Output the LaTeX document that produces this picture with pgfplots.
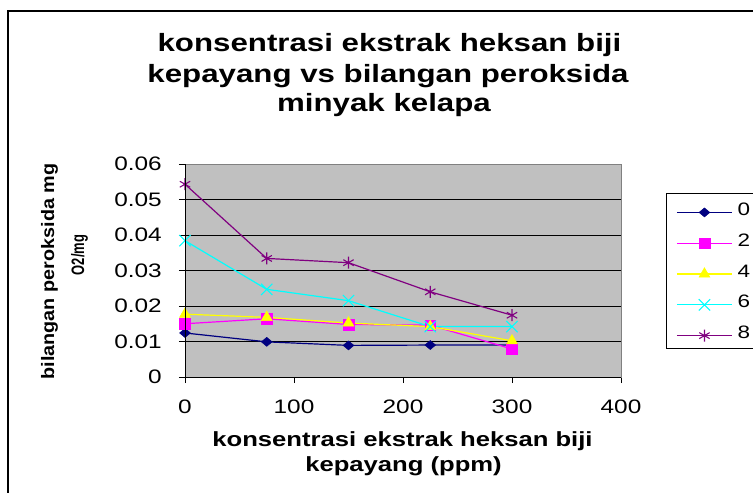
\documentclass[border=0pt]{standalone}
\usepackage{graphicx}
\usepackage{pgfplots}
\pgfplotsset{compat=1.18}
\usepackage{fontspec}
\setmainfont{Liberation Sans}[FakeStretch=1.25]
\newfontfamily\ylfont{Liberation Sans}
\definecolor{sNavy}{HTML}{000080}
\definecolor{sMag}{HTML}{FF00FF}
\definecolor{sYel}{HTML}{FFFF00}
\definecolor{sCyan}{HTML}{00FFFF}
\definecolor{sPurp}{HTML}{800080}
\definecolor{plotgray}{HTML}{C0C0C0}
\begin{document}
\begin{tikzpicture}
\path[use as bounding box] (0pt,0pt) rectangle (753pt,493pt);
\clip (0pt,0pt) rectangle (753pt,493pt);
\draw[line width=1.5pt] (8pt,482pt) rectangle (790pt,-20pt);
% title
\node[anchor=base, inner sep=0pt, font=\fontsize{25}{25}\bfseries\selectfont] at (389.5pt,441pt) {konsentrasi ekstrak heksan biji};
\node[anchor=base, inner sep=0pt, font=\fontsize{25}{25}\bfseries\selectfont] at (388pt,410pt) {kepayang vs bilangan peroksida};
\node[anchor=base, inner sep=0pt, font=\fontsize{25}{25}\bfseries\selectfont] at (384pt,381pt) {minyak kelapa};
% x label
\node[anchor=base, inner sep=0pt, font=\fontsize{20.5}{20.5}\bfseries\selectfont] at (402.5pt,46pt) {konsentrasi ekstrak heksan biji};
\node[anchor=base, inner sep=0pt, font=\fontsize{20.5}{20.5}\bfseries\selectfont] at (403.5pt,21pt) {kepayang (ppm)};
% y label
\node[anchor=base, inner sep=0pt, rotate=90] at (54pt,221.5pt) {\scalebox{1.1}[1]{\ylfont\bfseries\fontsize{18}{18}\selectfont bilangan peroksida mg}};
\node[anchor=base, inner sep=0pt, rotate=90] at (84pt,238pt) {\scalebox{0.72}[1]{\ylfont\bfseries\fontsize{18}{18}\selectfont O2/mg}};
\begin{axis}[
  at={(185pt,116pt)}, anchor=south west,
  scale only axis, width=436pt, height=213pt,
  xmin=0, xmax=400, ymin=0, ymax=0.06,
  scaled y ticks=false, scaled x ticks=false,
  xtick={0,100,200,300,400}, xticklabels={0,100,200,300,400},
  ytick={0,0.01,0.02,0.03,0.04,0.05,0.06},
  yticklabels={0,0.01,0.02,0.03,0.04,0.05,0.06},
  axis background/.style={fill=plotgray},
  axis line style={draw=gray, line width=0.9pt},
  ymajorgrids, grid style={black, line width=0.9pt},
  tick align=outside, major tick length=6pt,
  tick style={black, line width=0.9pt},
  xtick pos=left, ytick pos=left,
  ticklabel style={font=\fontsize{19.5}{19.5}\selectfont, inner sep=0pt},
  yticklabel style={xshift=-17pt},
  xticklabel style={yshift=-17pt},
  clip=false,
  legend style={at={(1.103,0.864)}, anchor=north west, draw=black, line width=0.9pt, fill=white,
    font=\fontsize{18}{18}\selectfont, inner xsep=10pt, inner ysep=2pt, row sep=2.8pt,
    cells={anchor=west},
    nodes={inner sep=0pt, text height=20pt, text depth=8pt, text width=25pt},
    /tikz/every odd column/.append style={column sep=5pt}},
  legend image code/.code={\draw[mark repeat=2,mark phase=2,#1] plot coordinates {(0pt,-3pt) (27.5pt,-3pt) (55pt,-3pt)};},
  after end axis/.code={
    \draw[black, line width=0.9pt] (rel axis cs:0,0) -- (rel axis cs:0,1);
    \draw[black, line width=0.9pt] (rel axis cs:0,0) -- (rel axis cs:1,0);
  },
]
\addplot[color=sNavy, line width=1.2pt, mark=diamond*, mark size=4.5pt, mark options={solid, xscale=1.6, fill=sNavy, line width=0.5pt}]
  coordinates {(0,0.0124) (75,0.0099) (150,0.0089) (225,0.0090) (300,0.0090)};
\addlegendentry{0}
\addplot[color=sMag, line width=1.2pt, mark=square*, mark size=5.3pt, mark options={solid, fill=sMag, line width=0.5pt}]
  coordinates {(0,0.0150) (75,0.0164) (150,0.0148) (225,0.0146) (300,0.0079)};
\addlegendentry{2}
\addplot[color=sYel, line width=1.2pt, mark=triangle*, mark size=6.3pt, mark options={solid, fill=sYel, line width=0.5pt}]
  coordinates {(0,0.0177) (75,0.0168) (150,0.0152) (225,0.0142) (300,0.0102)};
\addlegendentry{4}
\addplot[color=sCyan, line width=1.2pt, mark=x, mark size=8pt, mark options={solid, line width=1.1pt}]
  coordinates {(0,0.0384) (75,0.0247) (150,0.0215) (225,0.0142) (300,0.0142)};
\addlegendentry{6}
\addplot[color=sPurp, line width=1.2pt, mark=asterisk, mark size=6pt, mark options={solid, line width=1.1pt}]
  coordinates {(0,0.0543) (75,0.0334) (150,0.0322) (225,0.0240) (300,0.0174)};
\addlegendentry{8}
\end{axis}
\end{tikzpicture}
\end{document}
